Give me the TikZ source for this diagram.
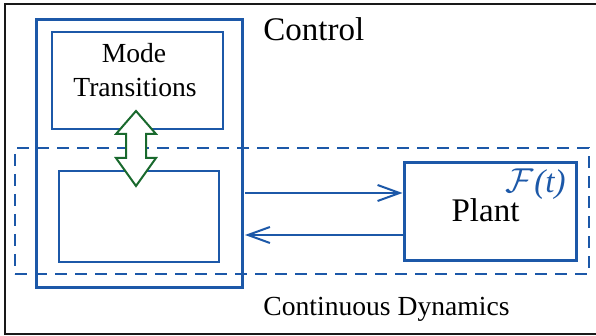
\documentclass[tikz,border=0pt]{standalone}
\usepackage{fontspec}
\setmainfont{Liberation Serif}
\usetikzlibrary{arrows.meta}
\definecolor{cblue}{RGB}{28,88,168}
\definecolor{cgreen}{RGB}{25,105,45}
\begin{document}
\begin{tikzpicture}[x=0.5pt,y=-0.5pt,
  boxthin/.style={draw=cblue,line width=1pt},
  dashbox/.style={draw=cblue,line width=1.25pt,dash pattern=on 6pt off 4pt},
  sig/.style={draw=cblue,line width=1pt,-{Straight Barb[length=11pt,width=8pt,line width=1pt]}},
  bigtext/.style={font=\fontsize{16.5}{19}\selectfont,inner sep=0pt},
  medtext/.style={font=\fontsize{13.8}{17}\selectfont,inner sep=0pt},
  frameline/.style={draw=black!90,line width=1.2pt}
]
\useasboundingbox (0,0) rectangle (596,336);
% outer frame (top, left, bottom)
\coordinate (ftr) at (596,4);
\coordinate (ftl) at (5,4);
\coordinate (fbl) at (5,334);
\coordinate (fbr) at (596,334);
\draw[frameline] (ftr) -- (ftl) -- (fbl) -- (fbr);
% dashed continuous dynamics region
\node[dashbox,minimum width=287pt,minimum height=63pt,inner sep=0pt] (dyn) at (302,211) {};
% control box
\node[draw=cblue,line width=1.5pt,minimum width=103pt,minimum height=134pt,inner sep=0pt] (ctrl) at (139,154) {};
% mode transitions box
\node[boxthin,minimum width=85.5pt,minimum height=48.5pt,inner sep=0pt] (mode) at (137.5,80.5) {};
\node[medtext] (modeA) at (134,63) [anchor=base] {Mode};
\node[medtext] (modeB) at (135,97) [anchor=base] {Transitions};
% continuous controller box
\node[boxthin,minimum width=80pt,minimum height=45.5pt,inner sep=0pt] (cont) at (139,216.5) {};
% plant
\node[draw=cblue,line width=1.5pt,minimum width=86pt,minimum height=49pt,inner sep=0pt] (plant) at (490,212) {};
\node[bigtext] (plantlbl) at (485.5,222) [anchor=base] {Plant};
\node[bigtext,text=cblue] (ft) at (566,193) [anchor=base east] {$\mathcal{F}$\kern0.5pt\textit{(t)}};
% labels
\node[bigtext] (ctrllbl) at (263,41) [anchor=base west] {Control};
\node[medtext] (dynlbl) at (263,316) [anchor=base west] {Continuous Dynamics};
% signals
\coordinate (s1) at (245,193);
\coordinate (s2) at (245,235);
\draw[sig] (s1) -- (s1 -| plant.west);
\draw[sig] (s2 -| plant.west) -- (s2);
% green double arrow
\coordinate (dtop) at (136,111);
\draw[draw=cgreen,fill=white,line width=1pt,line join=miter]
  (dtop) -- (156,134) -- (146,134) -- (146,158) -- (156,158) -- (136,186)
  -- (116,158) -- (126,158) -- (126,134) -- (116,134) -- cycle;
\end{tikzpicture}
\end{document}
